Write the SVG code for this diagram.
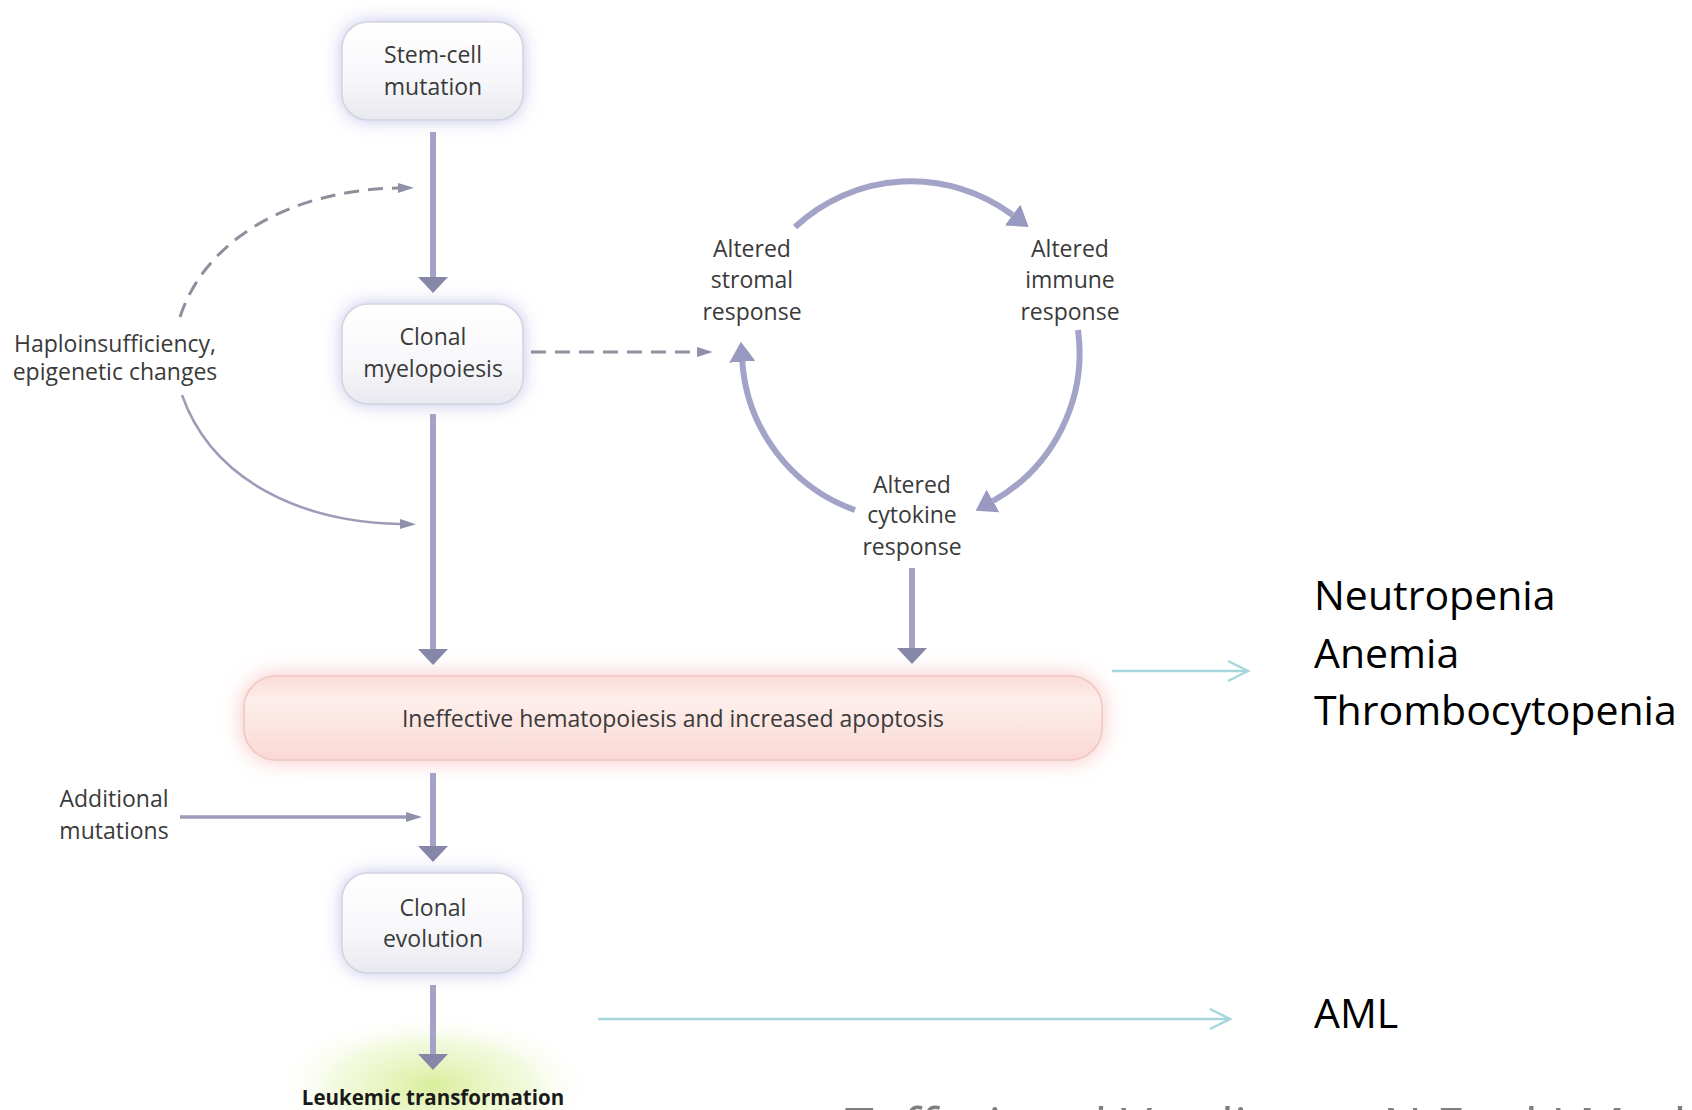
<svg xmlns="http://www.w3.org/2000/svg" width="1692" height="1110" viewBox="0 0 1692 1110">
<style>
.lbl{font-family:"Open Sans","Noto Sans","DejaVu Sans",sans-serif;font-size:23px;fill:#3a3a3a;text-anchor:middle}
.big{font-family:"Open Sans","Noto Sans","DejaVu Sans",sans-serif;font-size:41px;fill:#000}
.box{fill:url(#boxg);stroke:#d3d4df;stroke-width:1.5}
.glow{fill:#c0c0ea;filter:url(#blur)}
.main{fill:none;stroke:#a3a3c8;stroke-width:6}
.thin{fill:none;stroke:#9c9cb8;stroke-width:3}
.dash{fill:none;stroke:#8e8e9c;stroke-width:3;stroke-dasharray:15 9}
.cyan{fill:none;stroke:#a7d6da;stroke-width:2.5}
</style>
<defs>
<linearGradient id="boxg" x1="0" y1="0" x2="0" y2="1">
<stop offset="0" stop-color="#ffffff"/><stop offset="0.6" stop-color="#f7f7fa"/><stop offset="1" stop-color="#e8e9ef"/>
</linearGradient>
<linearGradient id="pinkg" x1="0" y1="0" x2="0" y2="1">
<stop offset="0" stop-color="#fbdcd8"/><stop offset="0.3" stop-color="#fdeeeb"/><stop offset="1" stop-color="#fad8d3"/>
</linearGradient>
<radialGradient id="greeng" cx="0.5" cy="0.5" r="0.5">
<stop offset="0" stop-color="#d6ec90" stop-opacity="0.9"/><stop offset="0.6" stop-color="#e6f4bd" stop-opacity="0.5"/><stop offset="1" stop-color="#ffffff" stop-opacity="0"/>
</radialGradient>
<filter id="blur" x="-30%" y="-30%" width="160%" height="160%"><feGaussianBlur stdDeviation="9"/></filter>
<filter id="blurP" x="-10%" y="-50%" width="120%" height="200%"><feGaussianBlur stdDeviation="11"/></filter>
<marker id="head" markerUnits="userSpaceOnUse" viewBox="0 0 16 30" refX="0" refY="15" markerWidth="16" markerHeight="30" orient="auto">
<path d="M0,0 L16,15 L0,30 z" fill="#8686a8"/>
</marker>
<marker id="arc" markerUnits="userSpaceOnUse" viewBox="0 0 20 26" refX="0" refY="13" markerWidth="20" markerHeight="26" orient="auto">
<path d="M0,0 L20,13 L0,26 z" fill="#9898c0"/>
</marker>
<marker id="small" markerUnits="userSpaceOnUse" viewBox="0 0 16 10" refX="0" refY="5" markerWidth="16" markerHeight="10" orient="auto">
<path d="M0,0 L16,5 L0,10 z" fill="#9090aa"/>
</marker>
<marker id="chev" markerUnits="userSpaceOnUse" viewBox="0 0 24 24" refX="21" refY="12" markerWidth="24" markerHeight="24" orient="auto">
<path d="M1,2 L21,12 L1,22" fill="none" stroke="#a7d6da" stroke-width="2.5"/>
</marker>
</defs>
<rect width="1692" height="1110" fill="#ffffff"/>

<g id="leukemic-glow">
<ellipse cx="433" cy="1085" rx="160" ry="72" fill="url(#greeng)"/>
</g>

<g id="stem-cell-mutation">
<rect class="glow" x="342" y="22" width="181" height="98" rx="26"/>
<rect class="box" x="342" y="22" width="181" height="98" rx="26"/>
<text class="lbl" x="433" y="63">Stem-cell</text>
<text class="lbl" x="433" y="95">mutation</text>
</g>

<g id="clonal-myelopoiesis">
<rect class="glow" x="342" y="304" width="181" height="100" rx="26"/>
<rect class="box" x="342" y="304" width="181" height="100" rx="26"/>
<text class="lbl" x="433" y="345">Clonal</text>
<text class="lbl" x="433" y="377">myelopoiesis</text>
</g>

<g id="ineffective-hematopoiesis">
<rect x="244" y="676" width="858" height="84" rx="32" fill="#f4b4b1" filter="url(#blurP)" opacity="0.85"/>
<rect x="244" y="676" width="858" height="84" rx="32" fill="url(#pinkg)" stroke="#efc7c3" stroke-width="1.5"/>
<text class="lbl" x="673" y="727">Ineffective hematopoiesis and increased apoptosis</text>
</g>

<g id="clonal-evolution">
<rect class="glow" x="342" y="873" width="181" height="100" rx="26"/>
<rect class="box" x="342" y="873" width="181" height="100" rx="26"/>
<text class="lbl" x="433" y="916">Clonal</text>
<text class="lbl" x="433" y="947">evolution</text>
</g>

<g id="leukemic-transformation">
<text x="433" y="1105" text-anchor="middle" font-family="Open Sans, Noto Sans, DejaVu Sans, sans-serif" font-size="20.5" font-weight="700" fill="#1a1a1a">Leukemic transformation</text>
</g>

<g id="haploinsufficiency">
<text class="lbl" x="115" y="352">Haploinsufficiency,</text>
<text class="lbl" x="115" y="380">epigenetic changes</text>
</g>

<g id="additional-mutations">
<text class="lbl" x="114" y="807">Additional</text>
<text class="lbl" x="114" y="839">mutations</text>
</g>

<g id="altered-stromal">
<text class="lbl" x="752" y="257">Altered</text>
<text class="lbl" x="752" y="288">stromal</text>
<text class="lbl" x="752" y="320">response</text>
</g>

<g id="altered-immune">
<text class="lbl" x="1070" y="257">Altered</text>
<text class="lbl" x="1070" y="288">immune</text>
<text class="lbl" x="1070" y="320">response</text>
</g>

<g id="altered-cytokine">
<text class="lbl" x="912" y="493">Altered</text>
<text class="lbl" x="912" y="523">cytokine</text>
<text class="lbl" x="912" y="555">response</text>
</g>

<g id="cytopenias">
<text class="big" x="1314" y="610">Neutropenia</text>
<text class="big" x="1314" y="668">Anemia</text>
<text class="big" x="1314" y="725">Thrombocytopenia</text>
</g>

<g id="aml">
<text class="big" x="1314" y="1028">AML</text>
</g>

<g id="citation">
<text x="845" y="1145" font-family="Open Sans, Noto Sans, DejaVu Sans, sans-serif" font-size="52" fill="#7f7f7f">Tefferi and Vardiman, N Engl J Med</text>
</g>

<g id="connectors">
<path class="main" d="M433,132 L433,277" marker-end="url(#head)"/>
<path class="main" d="M433,414 L433,649" marker-end="url(#head)"/>
<path class="main" d="M912,568 L912,648" marker-end="url(#head)"/>
<path class="main" d="M433,773 L433,846" marker-end="url(#head)"/>
<path class="main" d="M433,985 L433,1054" marker-end="url(#head)"/>
<path class="thin" style="stroke-width:3.5" d="M180,817 L406,817" marker-end="url(#small)"/>
<path class="thin" style="stroke-width:2.5" d="M182,395 C212,480 300,522 400,524" marker-end="url(#small)"/>
<path class="dash" d="M180,317 C205,240 290,190 398,188" marker-end="url(#small)"/>
<path class="dash" d="M531,352 L697,352" marker-end="url(#small)"/>
<path class="main" d="M795,227 A170,170 0 0 1 1012.6,215" marker-end="url(#arc)"/>
<path class="main" d="M1078,330 A170,170 0 0 1 993,501" marker-end="url(#arc)"/>
<path class="main" d="M855,510 A170,170 0 0 1 742.3,361.8" marker-end="url(#arc)"/>
<path class="cyan" d="M1112,671 L1248,671" marker-end="url(#chev)"/>
<path class="cyan" d="M598,1019 L1230,1019" marker-end="url(#chev)"/>
</g>
</svg>
